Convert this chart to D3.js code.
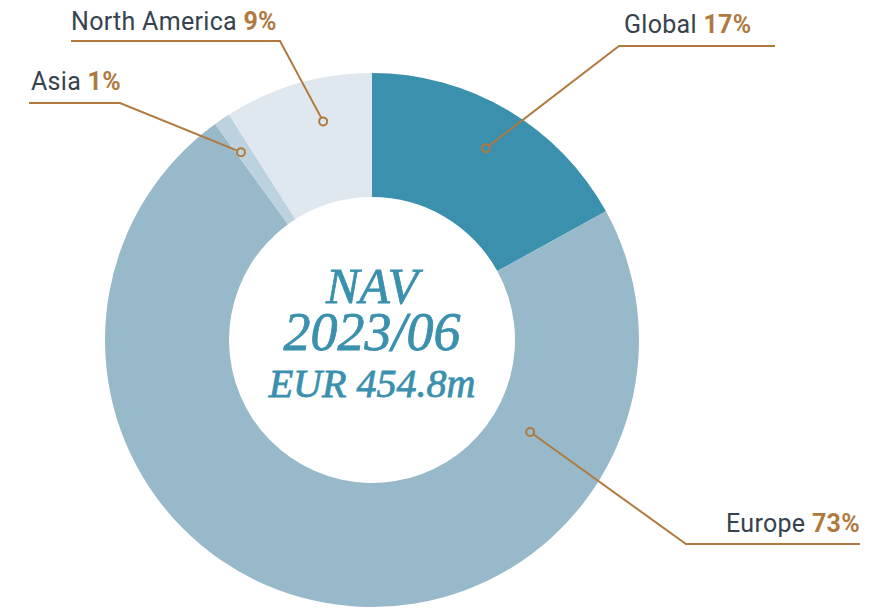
<!DOCTYPE html>
<html>
<head>
<meta charset="utf-8">
<script src="https://cdn.jsdelivr.net/npm/d3@7"></script>
<style>
  body { margin: 0; background: #fff; }
</style>
</head>
<body>
<div id="chart"></div>
<script>
var regions = ['Global', 'Europe', 'Asia', 'North America'];
var shares = [17, 73, 1, 9];
var sliceColors = ['#3a90ad', '#97b9ca', '#bcd2de', '#dfe7ef'];
var centerLines = ['NAV', '2023/06', 'EUR 454.8m'];

var w = 890, h = 608;
var cx = 372, cy = 340;
var outerR = 267, innerR = 143;
var lineColor = '#b07a3f';
var textColor = '#36424e';

// hand placed callouts: dot (angle in deg from 12 o'clock, radius), elbow x/y, end x, text side
var callouts = {
  'Global':        { ang: 30.7,  r: 223, elbow: [619, 46],  endX: 775, textX: 624, textY: 33,  anchor: 'start' },
  'Europe':        { ang: 120.2, r: 183, elbow: [686, 544], endX: 860, textX: 860, textY: 532, anchor: 'end' },
  'Asia':          { ang: 325.1, r: 229, elbow: [120, 103], endX: 29,  textX: 31,  textY: 90,  anchor: 'start' },
  'North America': { ang: 347.4, r: 224, elbow: [280, 41],  endX: 71,  textX: 71,  textY: 30,  anchor: 'start' }
};

var data = regions.map(function(d, i) {
  return { name: d, value: shares[i], color: sliceColors[i] };
});

var svg = d3.select('#chart').append('svg')
  .attr('width', w)
  .attr('height', h)
  .attr('style', 'background-color: white');

var pie = d3.pie().sort(null).value(function(d) { return d.value; });
var arc = d3.arc().innerRadius(innerR).outerRadius(outerR);

var g = svg.append('g').attr('transform', 'translate(' + cx + ',' + cy + ')');

g.selectAll('path.slice')
  .data(pie(data))
  .enter().append('path')
  .attr('class', 'slice')
  .attr('d', arc)
  .attr('fill', function(d) { return d.data.color; });

// callouts
var call = svg.append('g').attr('class', 'callouts');
data.forEach(function(d) {
  var c = callouts[d.name];
  var a = c.ang * Math.PI / 180;
  var px = cx + c.r * Math.sin(a);
  var py = cy - c.r * Math.cos(a);

  call.append('polyline')
    .attr('points', [[px, py], c.elbow, [c.endX, c.elbow[1]]].map(function(p) { return p.join(','); }).join(' '))
    .attr('fill', 'none')
    .attr('stroke', lineColor)
    .attr('stroke-width', 2);

  call.append('circle')
    .attr('cx', px).attr('cy', py)
    .attr('r', 4)
    .attr('fill', d.color)
    .attr('stroke', lineColor)
    .attr('stroke-width', 2);

  var t = call.append('text')
    .attr('x', c.textX)
    .attr('y', c.textY)
    .attr('text-anchor', c.anchor)
    .attr('font-family', 'Roboto, sans-serif')
    .attr('font-size', 25)
    .attr('letter-spacing', 0.3);
  t.append('tspan').attr('fill', textColor).text(d.name + ' ');
  t.append('tspan').attr('fill', lineColor).attr('font-weight', 'bold').text(d.value + '%');
});

// centre text
var sizes = [50, 54, 40];
var baselines = [303, 350, 397];
svg.selectAll('text.center')
  .data(centerLines)
  .enter().append('text')
  .attr('class', 'center')
  .attr('x', cx)
  .attr('y', function(d, i) { return baselines[i]; })
  .attr('text-anchor', 'middle')
  .attr('font-family', "'Liberation Serif', 'DejaVu Serif', serif")
  .attr('font-style', 'italic')
  .attr('font-size', function(d, i) { return sizes[i]; })
  .attr('fill', '#3a90ad')
  .attr('stroke', '#3a90ad')
  .attr('stroke-width', 0.8)
  .text(function(d) { return d; });
</script>
</body>
</html>
